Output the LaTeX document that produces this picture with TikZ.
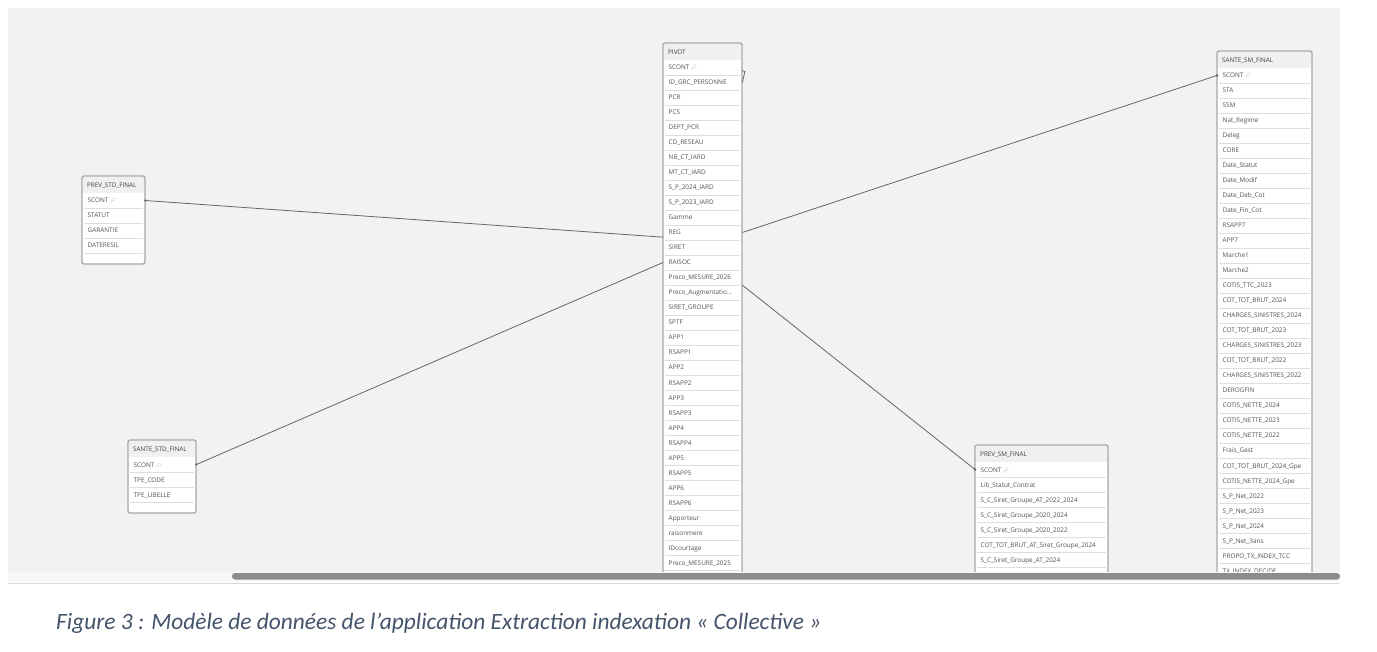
\documentclass[tikz,border=0pt]{standalone}
\usepackage{fontspec}
\setmainfont{Open Sans}
\newfontfamily\capfont{Carlito}
\newfontfamily\emojifont{Noto Emoji}
\usetikzlibrary{calc}
\definecolor{canvasbg}{HTML}{F2F2F2}
\definecolor{boxline}{HTML}{A6A6A6}
\definecolor{headbg}{HTML}{F0F0F0}
\definecolor{sepline}{HTML}{DEDEDE}
\definecolor{rowtext}{HTML}{525252}
\definecolor{titletext}{HTML}{404040}
\definecolor{connline}{HTML}{666666}
\definecolor{captext}{HTML}{44546A}
\definecolor{thumbc}{HTML}{8C8C8C}
\definecolor{stripc}{HTML}{F8F8F8}
\definecolor{rulec}{HTML}{D9D9D9}
\definecolor{iconc}{HTML}{A8A8A8}

\newcommand{\keyicon}{\,{\emojifont\fontsize{5}{5}\selectfont\color{iconc}🔎}}

\newcommand{\dbtable}[7]{%
 \fill[white,rounded corners=2] (#2,#4) rectangle (#3,{#4+#6});
 \fill[headbg] ({#2+0.7},{#4+0.7}) rectangle ({#3-0.7},{#4+17});
 \node[ttitle] (#1-t) at ({#2+5},{#4+9.3}) {#5};
 \foreach \rowtext [count=\i] in {#7} {
   \node[trow,text width={#3-#2-11}] (#1-\i) at (#2,{#4+17+7.5+15*(\i-1)}) {\rowtext};
   \draw[tsep] ($(#1-\i.south west)+(2,0)$) -- ($(#1-\i.south east)+(-2,0)$);
 }
 \draw[tbox] (#2,#4) rectangle (#3,{#4+#6});
}

\begin{document}
\begin{tikzpicture}[x=1pt,y=-1pt,
  trow/.style={anchor=west, minimum height=15, inner xsep=5.5, inner ysep=0, align=left,
    text height=6.5, text depth=1.5,
    font=\fontsize{6.4}{7}\selectfont, text=rowtext},
  ttitle/.style={anchor=west, inner sep=0, font=\fontsize{6.3}{7}\selectfont, text=titletext},
  tbox/.style={draw=boxline, line width=1.3, rounded corners=2},
  tsep/.style={draw=sepline, line width=0.6},
  conn/.style={draw=connline, line width=0.8},
  enddot/.style={fill=connline}]
\useasboundingbox (0,0) rectangle (1377,652);
\fill[white] (0,0) rectangle (1377,652);
\fill[canvasbg] (8,8) rectangle (1340,572);
\begin{scope}
\clip (8,8) rectangle (1340,572);
\dbtable{prevstd}{82}{145}{176}{PREV\_STD\_FINAL}{88}{SCONT\keyicon, STATUT, GARANTIE, DATERESIL}
\dbtable{santestd}{128}{196}{440}{SANTE\_STD\_FINAL}{73}{SCONT\keyicon, TPE\_CODE, TPE\_LIBELLE}
\dbtable{pivot}{663}{742}{43}{PIVOT}{600}{SCONT\keyicon, ID\_GRC\_PERSONNE, PCR, PCS, DEPT\_PCR, CD\_RESEAU, NB\_CT\_IARD, MT\_CT\_IARD, S\_P\_2024\_IARD, S\_P\_2023\_IARD, Gamme, REG, SIRET, RAISOC, Preco\_MESURE\_2026, Preco\_Augmentatio…, SIRET\_GROUPE, SPTF, APP1, RSAPP1, APP2, RSAPP2, APP3, RSAPP3, APP4, RSAPP4, APP5, RSAPP5, APP6, RSAPP6, Apporteur, raisonmere, IDcourtage, Preco\_MESURE\_2025}
\dbtable{santesm}{1217}{1312}{51}{SANTE\_SM\_FINAL}{600}{SCONT\keyicon, STA, SSM, Nat\_Regime, Deleg, CORE, Date\_Statut, Date\_Modif, Date\_Deb\_Cot, Date\_Fin\_Cot, RSAPP7, APP7, Marche1, Marche2, COTIS\_TTC\_2023, COT\_TOT\_BRUT\_2024, CHARGES\_SINISTRES\_2024, COT\_TOT\_BRUT\_2023, CHARGES\_SINISTRES\_2023, COT\_TOT\_BRUT\_2022, CHARGES\_SINISTRES\_2022, DEROGFIN, COTIS\_NETTE\_2024, COTIS\_NETTE\_2023, COTIS\_NETTE\_2022, Frais\_Gest, COT\_TOT\_BRUT\_2024\_Gpe, COTIS\_NETTE\_2024\_Gpe, S\_P\_Net\_2022, S\_P\_Net\_2023, S\_P\_Net\_2024, S\_P\_Net\_3ans, PROPO\_TX\_INDEX\_TCC, TX\_INDEX\_DECIDE}
\dbtable{prevsm}{975}{1108}{445}{PREV\_SM\_FINAL}{300}{SCONT\keyicon, Lib\_Statut\_Contrat, S\_C\_Siret\_Groupe\_AT\_2022\_2024, S\_C\_Siret\_Groupe\_2020\_2024, S\_C\_Siret\_Groupe\_2020\_2022, COT\_TOT\_BRUT\_AT\_Siret\_Groupe\_2024, S\_C\_Siret\_Groupe\_AT\_2024}
% connectors
\draw[conn] (prevstd-1.east) -- ($(pivot-12.south west)+(0,-3)$);
\draw[conn] (santestd-1.east) -- (pivot-14.west);
\draw[conn] (pivot-12.east) -- (santesm-1.west);
\draw[conn] (pivot-15.south east) -- (prevsm-1.west);
\draw[conn] (pivot-2.east) -- ++(2.5,-11) -- ++(-3,-1);
\fill[enddot] (prevstd-1.east) circle (1.3);
\fill[enddot] (santestd-1.east) circle (1.3);
\fill[enddot] (santesm-1.west) circle (1.3);
\fill[enddot] (prevsm-1.west) circle (1.3);
\end{scope}
% scrollbar
\fill[stripc] (8,572) rectangle (1340,582);
\fill[thumbc, rounded corners=3] (232,573) rectangle (1340,579.5);
\draw[rulec, line width=0.8] (8,583) -- (1340,583);
% caption
\node[anchor=base west, inner sep=0, font=\capfont\itshape\fontsize{23.4}{27}\selectfont, text=captext] (caption) at (56,629) {Figure 3 : Modèle de données de l’application Extraction indexation « Collective »};
\end{tikzpicture}
\end{document}
